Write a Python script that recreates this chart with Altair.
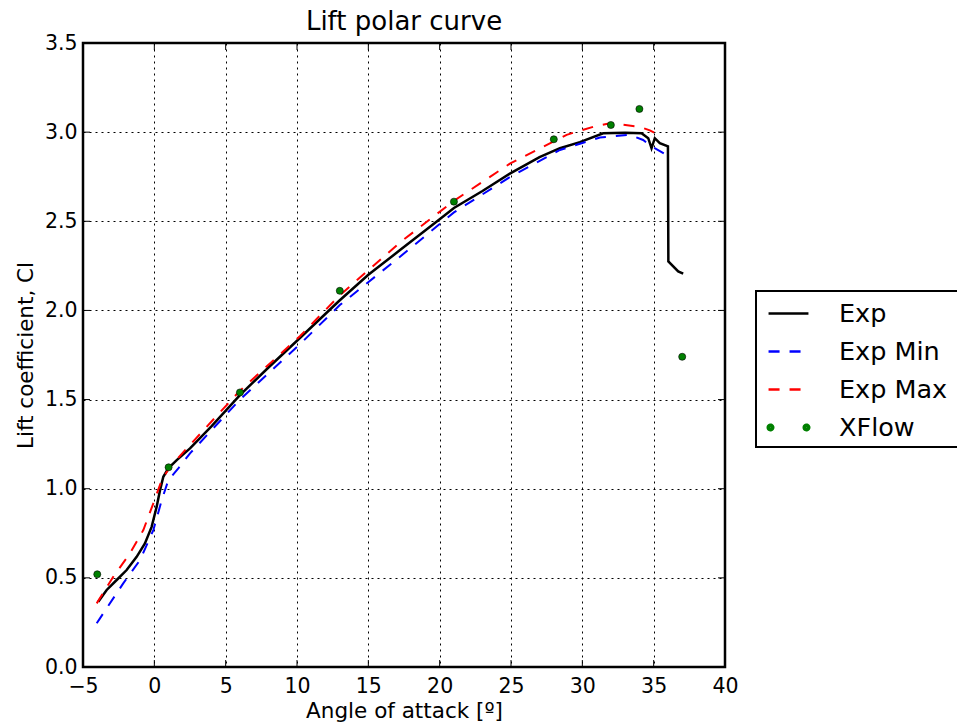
import altair as alt
import pandas as pd

# ---- data ----
exp_x = [-3.93, -3.34, -2.64, -1.94, -1.24, -0.66, -0.19, 0.16, 0.40, 0.63, 0.98, 1.57, 2.5, 4.0, 6.0, 8.0,
         10.0, 13.0, 15.0, 17.2, 20.0, 21.0, 23.0, 24.92, 27.0, 28.43, 29.83, 31.46, 33.0, 34.15,
         34.62, 34.85, 35.08, 35.43, 36.0, 36.03, 36.72, 37.07]
exp_y = [0.366, 0.432, 0.488, 0.544, 0.618, 0.693, 0.786, 0.898, 0.992, 1.067, 1.114, 1.16, 1.226, 1.35, 1.525, 1.68,
         1.83, 2.057, 2.20, 2.337, 2.512, 2.575, 2.67, 2.767, 2.86, 2.91, 2.944, 2.994, 2.997, 2.994,
         2.966, 2.91, 2.966, 2.938, 2.92, 2.275, 2.219, 2.206]

min_x = [-4.04, -3.81, -2.18, -1.0, -0.07, 0.52, 0.98, 1.68, 2.5, 6.0, 10.2, 13.0, 17.2, 21.0,
         24.92, 28.43, 29.83, 31.23, 33.33, 34.26, 34.85, 35.9]
min_y = [0.245, 0.273, 0.469, 0.60, 0.768, 0.936, 1.048, 1.114, 1.198, 1.50, 1.81, 2.03, 2.30, 2.55,
         2.748, 2.9, 2.935, 2.97, 2.985, 2.956, 2.92, 2.872]

max_x = [-4.04, -2.88, -1.71, -0.77, -0.07, 0.52, 1.1, 2.27, 6.0, 10.2, 13.0, 17.2, 21.0, 24.92,
         28.9, 30.76, 31.93, 34.03, 34.73, 35.43]
max_y = [0.357, 0.506, 0.637, 0.768, 0.918, 1.048, 1.123, 1.226, 1.55, 1.855, 2.085, 2.38, 2.615, 2.823,
         2.985, 3.03, 3.05, 3.03, 3.01, 2.98]

xflow_x = [-4, 1, 6, 13, 21, 28, 32, 34, 37]
xflow_y = [0.52, 1.12, 1.54, 2.11, 2.61, 2.96, 3.04, 3.13, 1.74]

series_names = ["Exp", "Exp Min", "Exp Max", "XFlow"]
series_colors = ["#000000", "#0000ff", "#ff0000", "#008000"]

x_ticks = [-5, 0, 5, 10, 15, 20, 25, 30, 35, 40]
y_ticks = [0.0, 0.5, 1.0, 1.5, 2.0, 2.5, 3.0, 3.5]

# ---- tables ----
def frame(name, xs, ys):
    return pd.DataFrame({"series": name, "x": xs, "y": ys, "i": range(len(xs))})

exp_df = frame("Exp", exp_x, exp_y)
min_df = frame("Exp Min", min_x, min_y)
max_df = frame("Exp Max", max_x, max_y)
xf_df = frame("XFlow", xflow_x, xflow_y)
all_df = pd.concat([exp_df, min_df, max_df, xf_df])
xt_df = pd.DataFrame({"x": x_ticks})
yt_df = pd.DataFrame({"y": y_ticks})

W, H = 642, 624
FONT = "DejaVu Sans"
TL = 7  # tick length
DASH = [11, 10]

xscale = alt.Scale(domain=[-5, 40], nice=False, zero=False)
yscale = alt.Scale(domain=[0, 3.5], nice=False, zero=False)
xaxis = alt.Axis(values=x_ticks, format="d", title="Angle of attack [º]", grid=True,
                 gridDash=[2, 4], gridColor="black", gridWidth=1, gridOpacity=1,
                 ticks=False, tickSize=0, domain=False, labelFontSize=20.5, labelFont=FONT,
                 labelColor="black", labelPadding=9, titleFontSize=21.5, titleFont=FONT,
                 titleFontWeight="normal", titleColor="black", titlePadding=4,
                 labelFlush=False, labelOverlap=False)
yaxis = alt.Axis(values=y_ticks, format=".1f", title="Lift coefficient, Cl", grid=True,
                 gridDash=[2, 4], gridColor="black", gridWidth=1, gridOpacity=1,
                 ticks=False, tickSize=0, domain=False, labelFontSize=20.5, labelFont=FONT,
                 labelColor="black", labelPadding=6, titleFontSize=21.5, titleFont=FONT,
                 titleFontWeight="normal", titleColor="black", titlePadding=7,
                 labelFlush=False, labelOverlap=False)

X = alt.X("x:Q", scale=xscale, axis=xaxis)
Y = alt.Y("y:Q", scale=yscale, axis=yaxis)

# legend symbols (unit coordinates, scaled by sqrt(symbolSize)/2).
# A tiny segment far to the right (outside the page) widens the legend frame
# so that, as in the reference, its right side runs off the figure edge.
widen = "M13,0L13.02,0"


def disc(cx):
    out = ""
    for r in (0.183, 0.067):
        out += (f"M{cx - r:.3f},0A{r},{r} 0 1,0 {cx + r:.3f},0"
                f"A{r},{r} 0 1,0 {cx - r:.3f},0Z")
    return out


line_sym = "M-1.33,0L1.33,0" + widen
dots_sym = disc(-1.2) + disc(1.2) + widen

legend = alt.Legend(
    title="\u00a0", titleOrient="left", titleFontSize=1, titlePadding=10,
    orient="none", legendX=673, legendY=248,
    labelFontSize=25.5, labelFont=FONT, labelColor="black", labelOffset=34,
    symbolSize=900, symbolStrokeWidth=2.5, symbolOpacity=1,
)
lkey = "series:N"
color = alt.Color(lkey, scale=alt.Scale(domain=series_names, range=series_colors), legend=legend)
shape = alt.Shape(lkey, scale=alt.Scale(domain=series_names,
                                        range=[line_sym, line_sym, line_sym, dots_sym]), legend=legend)
dash = alt.StrokeDash(lkey, scale=alt.Scale(domain=series_names,
                                            range=[[1, 0], DASH, DASH, [1, 0]]), legend=legend)

exp_line = alt.Chart(exp_df).mark_line(strokeWidth=2.5, color="#000000").encode(
    x=X, y=Y, order="i:Q")
min_line = alt.Chart(min_df).mark_line(strokeWidth=2, color="#0000ff", strokeDash=DASH).encode(
    x=X, y=Y, order="i:Q")
max_line = alt.Chart(max_df).mark_line(strokeWidth=2, color="#ff0000", strokeDash=DASH).encode(
    x=X, y=Y, order="i:Q")
pts = alt.Chart(xf_df).mark_point(filled=True, size=50, fill="#008000", stroke="black",
                                  strokeWidth=0.6, opacity=1).encode(x=X, y=Y)

# invisible layer that carries the legend for all four series
key_layer = alt.Chart(all_df).mark_point(size=0, filled=False).encode(
    x=X, y=Y, color=color, shape=shape, strokeDash=dash)

yt_left = alt.Chart(yt_df).mark_rule(color="black", strokeWidth=1).encode(
    y=Y, x=alt.value(0), x2=alt.value(TL))
yt_right = alt.Chart(yt_df).mark_rule(color="black", strokeWidth=1).encode(
    y=Y, x=alt.value(W - TL), x2=alt.value(W))
xt_bottom = alt.Chart(xt_df).mark_rule(color="black", strokeWidth=1).encode(
    x=X, y=alt.value(H - TL), y2=alt.value(H))
xt_top = alt.Chart(xt_df).mark_rule(color="black", strokeWidth=1).encode(
    x=X, y=alt.value(0), y2=alt.value(TL))

chart = alt.layer(exp_line, min_line, max_line, pts, key_layer,
                  yt_left, yt_right, xt_bottom, xt_top).properties(
    width=W, height=H,
    title=alt.Title("Lift polar curve", fontSize=26, fontWeight="normal", font=FONT,
                    color="black", offset=6, dy=8),
    autosize=alt.AutoSizeParams(type="none"),
    padding={"left": 83, "top": 43, "right": 232, "bottom": 57},
    background="white",
).configure_view(stroke="black", strokeWidth=2.5).configure_legend(
    strokeColor="black", strokeWidth=2, fillColor="white", padding=6, cornerRadius=0,
    rowPadding=8,
)

chart.save("out.html", embed_options={"renderer": "svg", "actions": False})
